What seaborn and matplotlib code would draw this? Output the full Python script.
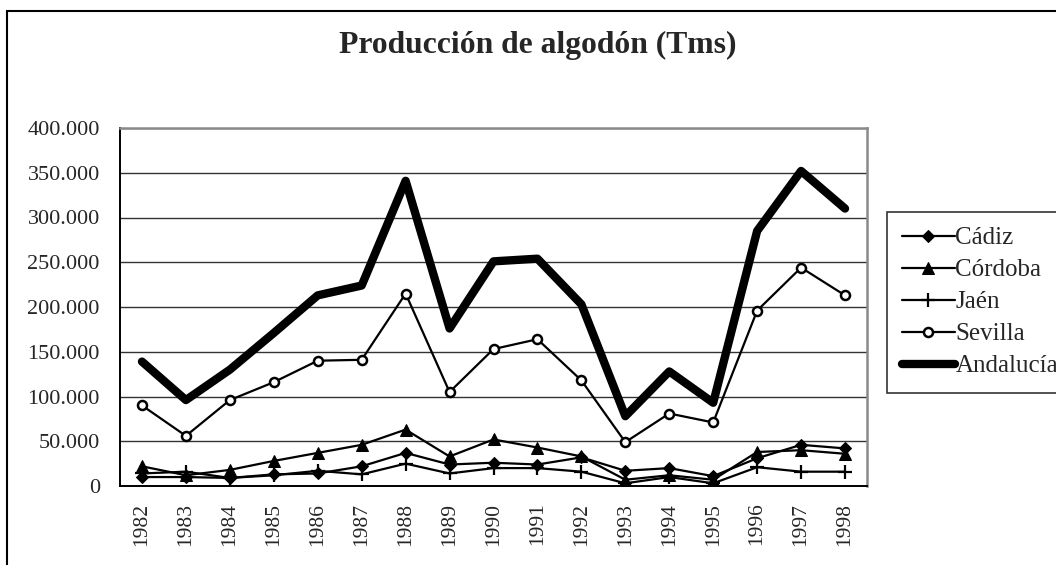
import matplotlib
matplotlib.use("Agg")
import matplotlib.pyplot as plt
import matplotlib.ticker as ticker
from matplotlib.patches import Rectangle
import seaborn as sns
import pandas as pd

# Datos (toneladas)
years = list(range(1982, 1999))
cadiz = [10000, 10000, 9000, 13000, 14000, 22000, 37000, 24000, 26000, 24000,
         32000, 17000, 20000, 11000, 31000, 46000, 42000]
cordoba = [22000, 12000, 18000, 28000, 37000, 46000, 63000, 33000, 52000, 43000,
           33000, 7000, 12000, 7000, 38000, 40000, 36000]
jaen = [14000, 16000, 9000, 12000, 17000, 13000, 25000, 14000, 20000, 20000,
        16000, 3000, 10000, 3000, 21000, 16000, 16000]
sevilla = [90000, 56000, 96000, 116000, 140000, 141000, 215000, 105000, 153000, 164000,
           118000, 49000, 81000, 71000, 196000, 244000, 213000]
andalucia = [139000, 96000, 130000, 171000, 213000, 224000, 341000, 176000, 251000, 254000,
             203000, 78000, 128000, 93000, 285000, 352000, 310000]

series = {
    "Cádiz": cadiz,
    "Córdoba": cordoba,
    "Jaén": jaen,
    "Sevilla": sevilla,
    "Andalucía": andalucia,
}

sns.set_style("white")
plt.rcParams["font.family"] = ["Liberation Serif", "DejaVu Serif"]

W, H = 1056, 565
fig = plt.figure(figsize=(W / 100, H / 100), dpi=100)
ax = fig.add_axes([120 / W, 1 - 486 / H, (867 - 120) / W, (486 - 128) / H])

styles = {
    "Cádiz": dict(marker="D", markersize=6, markerfacecolor="black", linewidth=1.6),
    "Córdoba": dict(marker="^", markersize=8, markerfacecolor="black", linewidth=1.6),
    "Jaén": dict(marker="+", markersize=10, markeredgewidth=1.6, linewidth=1.6),
    "Sevilla": dict(marker="o", markersize=6.5, markerfacecolor="white",
                    markeredgewidth=1.8, linewidth=1.6),
    "Andalucía": dict(marker=None, linewidth=6),
}

for name, vals in series.items():
    df = pd.DataFrame({"year": years, "value": vals})
    sns.lineplot(data=df, x="year", y="value", ax=ax, color="black",
                 markeredgecolor="black", label=name, **styles[name])

ax.set_xlim(years[0] - 0.5, years[-1] + 0.5)
ax.set_ylim(0, 400000)
ax.set_xlabel("")
ax.set_ylabel("")

ax.yaxis.set_major_locator(ticker.MultipleLocator(50000))
ax.yaxis.set_major_formatter(
    ticker.FuncFormatter(lambda v, p: f"{v:,.0f}".replace(",", ".")))
ax.set_xticks(years)
ax.set_xticklabels([str(y) for y in years], rotation=90)
ax.xaxis.set_minor_locator(ticker.FixedLocator([y + 0.5 for y in years[:-1]]))
ax.tick_params(axis="x", which="major", length=0, pad=12, labelsize=15.5)
ax.tick_params(axis="x", which="minor", length=7, width=1.2, direction="out",
               color="black")
ax.tick_params(axis="y", which="major", length=7, width=1.2, direction="out",
               color="black", labelsize=16, pad=7.5)

ax.grid(axis="y", color="#333333", linewidth=1)
ax.set_axisbelow(True)
for side in ["left", "bottom"]:
    ax.spines[side].set_color("black")
    ax.spines[side].set_linewidth(1.4)
for side in ["top", "right"]:
    ax.spines[side].set_color("#8a8a8a")
    ax.spines[side].set_linewidth(1.8)

ax.get_legend().remove()
handles, labels = ax.get_legend_handles_labels()
leg = fig.legend(handles, labels, loc="upper left",
                 bbox_to_anchor=(887 / W, 1 - 212 / H), bbox_transform=fig.transFigure,
                 borderaxespad=0, frameon=True, fancybox=False, fontsize=18,
                 handlelength=2.1, handletextpad=0.04, labelspacing=0.38,
                 borderpad=0.6)
leg.get_frame().set_edgecolor("black")
leg.get_frame().set_linewidth(1.2)

fig.text(538 / W, 1 - 53 / H, "Producción de algodón (Tms)", ha="center",
         va="baseline", fontsize=22.8, fontweight="bold")

fig.add_artist(Rectangle((7 / W, -0.1), 1.2, 1.1 - 11 / H, transform=fig.transFigure,
                         fill=False, edgecolor="black", linewidth=1.5))

fig.savefig("out.png", dpi=100)
